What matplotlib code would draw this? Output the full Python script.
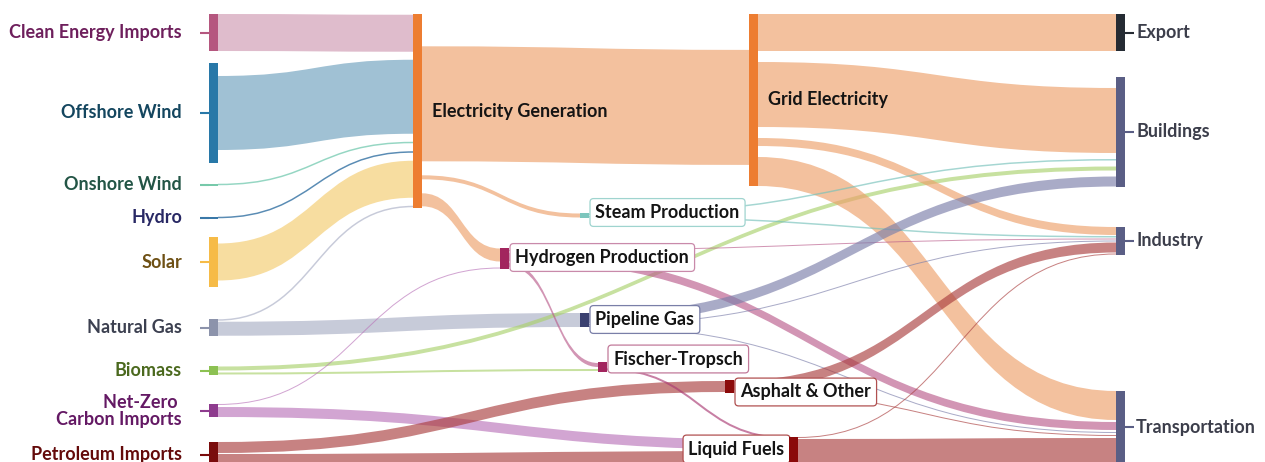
import numpy as np
import matplotlib
matplotlib.use("Agg")
import matplotlib.pyplot as plt
from matplotlib.path import Path
from matplotlib.patches import PathPatch, Rectangle
from matplotlib.colors import to_rgb

# ---------------- data ----------------
node_names = [
    "Clean Energy Imports", "Offshore Wind", "Onshore Wind", "Hydro", "Solar",
    "Natural Gas", "Biomass", "Net-Zero Carbon Imports", "Petroleum Imports",
    "Electricity Generation", "Steam Production", "Hydrogen Production",
    "Pipeline Gas", "Fischer-Tropsch", "Asphalt & Other", "Liquid Fuels",
    "Grid Electricity", "Export", "Buildings", "Industry", "Transportation",
]
node_labels = [
    "Clean Energy Imports", "Offshore Wind", "Onshore Wind", "Hydro", "Solar",
    "Natural Gas", "Biomass", "Net-Zero \nCarbon Imports", "Petroleum Imports",
    "Electricity Generation", "Steam Production", "Hydrogen Production",
    "Pipeline Gas", "Fischer-Tropsch", "Asphalt & Other", "Liquid Fuels",
    "Grid Electricity", "Export", "Buildings", "Industry", "Transportation",
]

link_sources = [
    "Clean Energy Imports", "Offshore Wind", "Onshore Wind", "Hydro", "Solar",
    "Natural Gas", "Natural Gas", "Biomass", "Biomass",
    "Net-Zero Carbon Imports", "Net-Zero Carbon Imports",
    "Petroleum Imports", "Petroleum Imports",
    "Electricity Generation", "Electricity Generation", "Electricity Generation",
    "Grid Electricity", "Grid Electricity", "Grid Electricity", "Grid Electricity",
    "Steam Production", "Steam Production",
    "Hydrogen Production", "Hydrogen Production", "Hydrogen Production",
    "Pipeline Gas", "Pipeline Gas", "Pipeline Gas",
    "Fischer-Tropsch", "Asphalt & Other", "Asphalt & Other",
    "Liquid Fuels", "Liquid Fuels",
]
link_targets = [
    "Electricity Generation", "Electricity Generation", "Electricity Generation",
    "Electricity Generation", "Electricity Generation",
    "Electricity Generation", "Pipeline Gas", "Buildings", "Fischer-Tropsch",
    "Hydrogen Production", "Liquid Fuels",
    "Asphalt & Other", "Liquid Fuels",
    "Grid Electricity", "Steam Production", "Hydrogen Production",
    "Export", "Buildings", "Industry", "Transportation",
    "Buildings", "Industry",
    "Industry", "Transportation", "Fischer-Tropsch",
    "Buildings", "Industry", "Transportation",
    "Liquid Fuels", "Industry", "Transportation",
    "Industry", "Transportation",
]
link_values = [
    37, 74, 1.5, 1.5, 37,
    1.5, 14, 4, 2,
    1, 10,
    11, 13,
    115, 4, 13,
    37, 65, 8, 29,
    1.5, 1.5,
    1, 8, 4,
    10, 1, 1,
    2, 10, 1,
    1, 25,
]

# ---------------- layout / style ----------------
NODE_W = 9
node_layout = {
    # name: (x_left, y_top, pad, in_gap, out_gap, in_align, out_align)
    "Clean Energy Imports": (209, 14, 0, 0, 0, .5, .5),
    "Offshore Wind": (209, 63, 26, 0, 0, .5, .5),
    "Onshore Wind": (209, 183.5, 0.5, 0, 0, .5, .5),
    "Hydro": (209, 216.5, 0.5, 0, 0, .5, .5),
    "Solar": (209, 237, 13, 0, 0, .5, .5),
    "Natural Gas": (209, 319, 0.5, 0, 1, .5, .5),
    "Biomass": (209, 366, 1, 0, 2, .5, .5),
    "Net-Zero Carbon Imports": (209, 404, 0, 0, 2, .5, .5),
    "Petroleum Imports": (209, 442, 0, 0, 1, .5, .5),
    "Electricity Generation": (413, 14, 1.5, 8, 14, .5, .95),
    "Steam Production": (580, 213, 1, 0, 1, .5, .5),
    "Hydrogen Production": (500, 248, 1, 6, 2, .5, .5),
    "Pipeline Gas": (580, 313, 0, 0, 1, .5, .5),
    "Fischer-Tropsch": (598, 362, 2, 2, 0, .5, .8),
    "Asphalt & Other": (725, 380, 1, 0, 1, .5, .5),
    "Liquid Fuels": (789, 437, 0, 1, 1, .5, .5),
    "Grid Electricity": (749, 14, 0, 0, 11, .63, .5),
    "Export": (1116, 14, 0, 0, 0, .5, .5),
    "Buildings": (1116, 77, 11, 6, 0, 1.0, .5),
    "Industry": (1116, 227, 0, 1, 0, .5, .5),
    "Transportation": (1116, 391, 0, 2, 0, 0.0, .5),
}

node_colors = {
    "Clean Energy Imports": "#b5577f", "Offshore Wind": "#2878a8",
    "Onshore Wind": "#77c9aa", "Hydro": "#3a78a8", "Solar": "#f6bb47",
    "Natural Gas": "#8c93ab", "Biomass": "#8cc152",
    "Net-Zero Carbon Imports": "#8e3b8e", "Petroleum Imports": "#7a0c0c",
    "Electricity Generation": "#ed7d31", "Steam Production": "#7cc6bd",
    "Hydrogen Production": "#a2255e", "Pipeline Gas": "#3b4170",
    "Fischer-Tropsch": "#a2255e", "Asphalt & Other": "#8b0a0a",
    "Liquid Fuels": "#8b0a0a", "Grid Electricity": "#ed7d31",
    "Export": "#252b33", "Buildings": "#5a5e85", "Industry": "#5a5e85",
    "Transportation": "#5a5e85",
}
# apparent (on white) colour of flows leaving each node
link_colors = {
    "Clean Energy Imports": "#e0bccc", "Offshore Wind": "#a0c1d4",
    "Onshore Wind": "#96d7c3", "Hydro": "#5a8cb4", "Solar": "#f8dda0",
    "Natural Gas": "#c8cbda", "Biomass": "#c8e1a0",
    "Net-Zero Carbon Imports": "#d2a5d2", "Petroleum Imports": "#c88282",
    "Electricity Generation": "#f3c19e", "Steam Production": "#a5d7d2",
    "Hydrogen Production": "#d296b4", "Pipeline Gas": "#aaacc8",
    "Fischer-Tropsch": "#c87fa4", "Asphalt & Other": "#c88282",
    "Liquid Fuels": "#c88282", "Grid Electricity": "#f3c19e",
}
LINK_ALPHA = 0.65

left_label_colors = {
    "Clean Energy Imports": "#6e1f5c", "Offshore Wind": "#14465f",
    "Onshore Wind": "#235546", "Hydro": "#282864", "Solar": "#6e5014",
    "Natural Gas": "#3c4050", "Biomass": "#4b691e",
    "Net-Zero Carbon Imports": "#641964", "Petroleum Imports": "#640a0a",
}
right_nodes = ["Export", "Buildings", "Industry", "Transportation"]
plain_mid = ["Electricity Generation", "Grid Electricity"]
# boxed label: side, vertical offset, edge colour
boxed = {
    "Steam Production": ("right", -3, "#9fd4cf"),
    "Hydrogen Production": ("right", -1, "#c98aaa"),
    "Pipeline Gas": ("right", -0.5, "#7a7fa8"),
    "Fischer-Tropsch": ("right", -8, "#c27a9a"),
    "Asphalt & Other": ("right", 5.5, "#b05050"),
    "Liquid Fuels": ("left", -1.5, "#b05050"),
}

FONT = "Lato"
FS = 13

# ---------------- compute layout ----------------
ins = {n: [] for n in node_names}
outs = {n: [] for n in node_names}
for i, (s, t) in enumerate(zip(link_sources, link_targets)):
    outs[s].append(i)
    ins[t].append(i)

def span(lst, gap):
    if not lst:
        return 0.0
    return sum(link_values[i] for i in lst) + gap * (len(lst) - 1)

H, X, Y = {}, {}, {}
for n in node_names:
    x, y, pad, ig, og, ia, oa = node_layout[n]
    H[n] = max(span(ins[n], ig), span(outs[n], og)) + pad
    X[n], Y[n] = x, y
CY = {n: Y[n] + H[n] / 2 for n in node_names}

src_pos, tgt_pos = {}, {}
for n in node_names:
    x, y, pad, ig, og, ia, oa = node_layout[n]
    o = sorted(outs[n], key=lambda i: (CY[link_targets[i]] - CY[n]) /
               max(X[link_targets[i]] - X[n], 1))
    start = Y[n] + (H[n] - span(o, og)) * oa
    for i in o:
        src_pos[i] = (start, start + link_values[i])
        start += link_values[i] + og
    inc = sorted(ins[n], key=lambda i: (CY[link_sources[i]] - CY[n]) /
                 max(X[n] - X[link_sources[i]], 1))
    start = Y[n] + (H[n] - span(inc, ig)) * ia
    for i in inc:
        tgt_pos[i] = (start, start + link_values[i])
        start += link_values[i] + ig

def base_color(hexc, a):
    r = np.array(to_rgb(hexc))
    return tuple(np.clip(1 - (1 - r) / a, 0, 1))

# ---------------- draw ----------------
fig = plt.figure(figsize=(12.65, 4.62), dpi=100)
ax = fig.add_axes([0, 0, 1, 1])
ax.set_xlim(0, 1265)
ax.set_ylim(462, 0)
ax.axis("off")

for i in range(len(link_values)):
    s, t, v = link_sources[i], link_targets[i], link_values[i]
    x0 = X[s] + NODE_W
    x1 = X[t]
    xm = (x0 + x1) / 2
    (a0, b0), (a1, b1) = src_pos[i], tgt_pos[i]
    col = base_color(link_colors[s], LINK_ALPHA)
    if v < 2.5:
        c0, c1 = (a0 + b0) / 2, (a1 + b1) / 2
        verts = [(x0, c0), (xm, c0), (xm, c1), (x1, c1)]
        codes = [Path.MOVETO, Path.CURVE4, Path.CURVE4, Path.CURVE4]
        ax.add_patch(PathPatch(Path(verts, codes), fc="none", ec=col,
                               lw=max(v, 1.0) * 0.72, alpha=LINK_ALPHA, zorder=1))
    else:
        verts = [(x0, a0), (xm, a0), (xm, a1), (x1, a1), (x1, b1),
                 (xm, b1), (xm, b0), (x0, b0), (x0, a0)]
        codes = [Path.MOVETO, Path.CURVE4, Path.CURVE4, Path.CURVE4, Path.LINETO,
                 Path.CURVE4, Path.CURVE4, Path.CURVE4, Path.CLOSEPOLY]
        ax.add_patch(PathPatch(Path(verts, codes), fc=col, ec="none",
                               alpha=LINK_ALPHA, zorder=1))

for n in node_names:
    ax.add_patch(Rectangle((X[n], Y[n]), NODE_W, H[n], fc=node_colors[n],
                           ec="none", zorder=3))

lab = dict(zip(node_names, node_labels))
for n, c in left_label_colors.items():
    ax.plot([X[n] - 9, X[n]], [CY[n], CY[n]], color=node_colors[n], lw=1.5,
            zorder=3, solid_capstyle="butt")
    ax.text(X[n] - 27, CY[n], lab[n], ha="right", va="center", color=c,
            fontsize=FS, fontweight="bold", family=FONT, linespacing=1.0,
            zorder=5)
for n in right_nodes:
    xr = X[n] + NODE_W
    ax.plot([xr, xr + 9], [CY[n], CY[n]], color=node_colors[n], lw=1.5,
            zorder=3, solid_capstyle="butt")
    ax.text(xr + 11, CY[n], lab[n], ha="left", va="center", color="#3c3e4b",
            fontsize=FS, fontweight="bold", family=FONT, zorder=5)
for n in plain_mid:
    ax.text(X[n] + NODE_W + 10, CY[n], lab[n], ha="left", va="center",
            color="#141414", fontsize=FS, fontweight="bold", family=FONT, zorder=5)
for n, (side, dy, ec) in boxed.items():
    padpx = 0.3 * FS * 100 / 72
    if side == "right":
        ax.text(X[n] + NODE_W + 1 + padpx, CY[n] + dy, lab[n], ha="left",
                va="center", color="#141414", fontsize=FS, fontweight="bold",
                family=FONT, zorder=5,
                bbox=dict(boxstyle="round,pad=0.3,rounding_size=0.2",
                          fc="white", ec=ec, lw=0.9))
    else:
        ax.text(X[n] - padpx + 1, CY[n] + dy, lab[n], ha="right",
                va="center", color="#141414", fontsize=FS, fontweight="bold",
                family=FONT, zorder=2,
                bbox=dict(boxstyle="round,pad=0.3,rounding_size=0.2",
                          fc="white", ec=ec, lw=0.9))

fig.savefig("out.png", dpi=100)
